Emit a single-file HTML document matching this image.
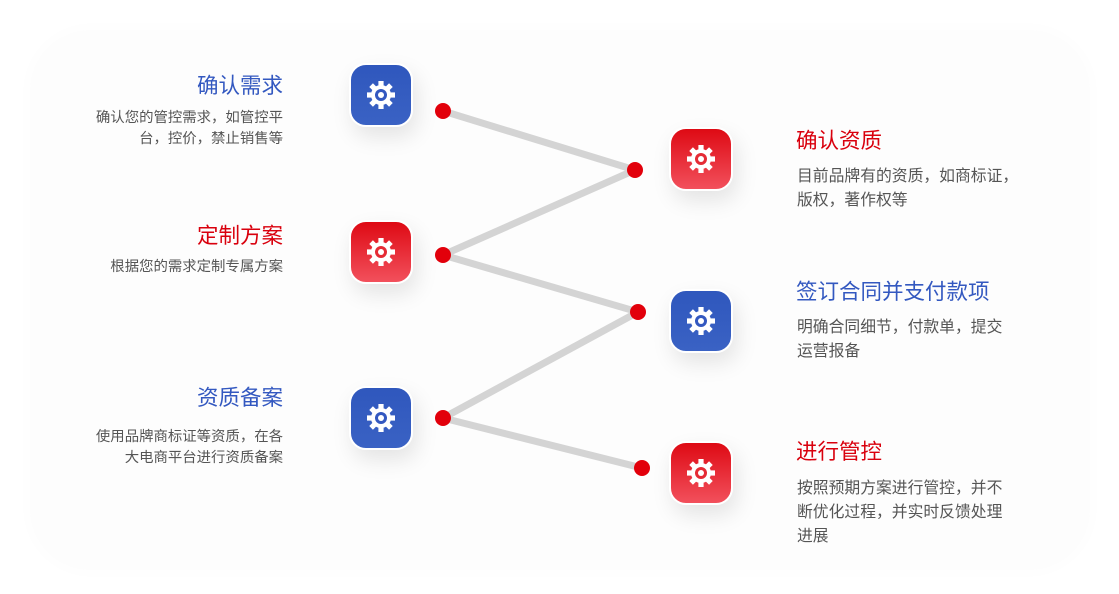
<!DOCTYPE html>
<html><head><meta charset="utf-8"><style>
html,body{margin:0;padding:0;width:1119px;height:594px;overflow:hidden;background:#fff;font-family:"Liberation Sans","Noto Sans CJK SC",sans-serif;}
.panel{position:absolute;left:30px;top:30px;width:1060px;height:540px;border-radius:60px;background:#fdfdfd;box-shadow:0 0 20px rgba(0,0,0,0.015);}
.ic{position:absolute;width:60px;height:60px;border-radius:17px;border:2px solid #fff;box-shadow:4px 10px 22px rgba(0,0,0,0.10);display:flex;align-items:center;justify-content:center;}
.b{background:linear-gradient(#2f57bd,#3a62c4);}
.r{background:linear-gradient(#de0a14,#f2505c);}
.t{position:absolute;font-size:21.5px;line-height:26px;white-space:nowrap;}
.d{position:absolute;font-size:14.4px;line-height:21px;color:#555;white-space:nowrap;}
.L{text-align:right;}
.bl{color:#3358c0}.rd{color:#d9000d}
</style></head><body>
<div class="panel"></div>
<svg width="1119" height="594" style="position:absolute;left:0;top:0">
<polyline points="443,111 635,170 443,255 638,312 443,418 642,468" fill="none" stroke="#d4d4d4" stroke-width="7" stroke-linejoin="round"/>
<g fill="#e2000b">
<circle cx="443" cy="111" r="8"/><circle cx="635" cy="170" r="8"/><circle cx="443" cy="255" r="8"/>
<circle cx="638" cy="312" r="8"/><circle cx="443" cy="418" r="8"/><circle cx="642" cy="468" r="8"/>
</g>
<defs><g id="gear" fill="#fff">
<circle r="10"/>
<rect x="-2.6" y="-14" width="5.2" height="28"/>
<rect x="-2.6" y="-14" width="5.2" height="28" transform="rotate(45)"/>
<rect x="-2.6" y="-14" width="5.2" height="28" transform="rotate(90)"/>
<rect x="-2.6" y="-14" width="5.2" height="28" transform="rotate(135)"/>
</g></defs>
</svg>
<div class="ic b" style="left:349px;top:63px"><svg width="32" height="32" viewBox="-16 -16 32 32"><use href="#gear"/><circle r="6" fill="#3358c0"/><circle r="3" fill="#fff"/></svg></div>
<div class="ic r" style="left:349px;top:220px"><svg width="32" height="32" viewBox="-16 -16 32 32"><use href="#gear"/><circle r="6" fill="#e52b35"/><circle r="3" fill="#fff"/></svg></div>
<div class="ic b" style="left:349px;top:386px"><svg width="32" height="32" viewBox="-16 -16 32 32"><use href="#gear"/><circle r="6" fill="#3358c0"/><circle r="3" fill="#fff"/></svg></div>
<div class="ic r" style="left:669px;top:127px"><svg width="32" height="32" viewBox="-16 -16 32 32"><use href="#gear"/><circle r="6" fill="#e52b35"/><circle r="3" fill="#fff"/></svg></div>
<div class="ic b" style="left:669px;top:289px"><svg width="32" height="32" viewBox="-16 -16 32 32"><use href="#gear"/><circle r="6" fill="#3358c0"/><circle r="3" fill="#fff"/></svg></div>
<div class="ic r" style="left:669px;top:441px"><svg width="32" height="32" viewBox="-16 -16 32 32"><use href="#gear"/><circle r="6" fill="#e52b35"/><circle r="3" fill="#fff"/></svg></div>

<div class="t L bl" style="right:836px;top:73px">确认需求</div>
<div class="d L" style="right:836px;top:108px">确认您的管控需求，如管控平<br>台，控价，禁止销售等</div>
<div class="t L rd" style="right:836px;top:223px">定制方案</div>
<div class="d L" style="right:836px;top:257px">根据您的需求定制专属方案</div>
<div class="t L bl" style="right:836px;top:385px">资质备案</div>
<div class="d L" style="right:836px;top:427px">使用品牌商标证等资质，在各<br>大电商平台进行资质备案</div>

<div class="t rd" style="left:796px;top:128px">确认资质</div>
<div class="d" style="left:797px;top:165px;font-size:15.8px;line-height:24px">目前品牌有的资质，如商标证，<br>版权，著作权等</div>
<div class="t bl" style="left:796px;top:279px">签订合同并支付款项</div>
<div class="d" style="left:797px;top:316px;font-size:15.8px;line-height:24px">明确合同细节，付款单，提交<br>运营报备</div>
<div class="t rd" style="left:796px;top:439px">进行管控</div>
<div class="d" style="left:797px;top:477px;font-size:15.8px;line-height:24px">按照预期方案进行管控，并不<br>断优化过程，并实时反馈处理<br>进展</div>
</body></html>
